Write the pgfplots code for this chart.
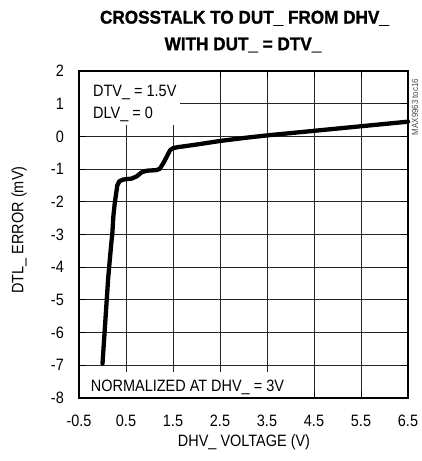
\documentclass[border=0pt]{standalone}
\usepackage{pgfplots}
\pgfplotsset{compat=1.18}
\usepackage{fontspec}
\setmainfont{Liberation Sans}[FakeStretch=0.88]
\newfontfamily\titlefont{Liberation Sans}[FakeStretch=0.93, BoldFeatures={FakeBold=1.2}]
\pgfplotsset{layers/mylayers/.define layer set={axis background,axis grid,pre main,main,axis ticks,axis lines,axis tick labels,axis descriptions,axis foreground}{}}
\begin{document}
\begin{tikzpicture}[x=1bp,y=1bp]
\path (-79,-63) rectangle (341,398);
\begin{axis}[
  set layers=mylayers,
  at={(0,0)}, anchor=south west,
  width=329bp, height=327bp, scale only axis,
  xmin=-0.5, xmax=6.5, ymin=-8, ymax=2,
  xtick={-0.5,0.5,1.5,2.5,3.5,4.5,5.5,6.5},
  xticklabels={-0.5,0.5,1.5,2.5,3.5,4.5,5.5,6.5},
  ytick={-8,-7,-6,-5,-4,-3,-2,-1,0,1,2},
  yticklabels={-8,-7,-6,-5,-4,-3,-2,-1,0,1,2},
  grid=major,
  major grid style={black!85, line width=1bp},
  axis line style={line width=2.6bp},
  tick style={black, line width=1bp},
  major tick length=7bp,
  tick align=inside,
  ticklabel style={font=\fontsize{16.5}{16.5}\selectfont, inner sep=0pt},
  yticklabel style={anchor=east, xshift=-15bp},
  xticklabel style={anchor=north, yshift=-17bp},
  clip=false,
]
\fill[white] (rel axis cs:0.004,0.996) rectangle (rel axis cs:0.307,0.835);
\fill[white] (rel axis cs:0.004,0.004) rectangle (rel axis cs:0.626,0.0795);
\node[anchor=base west, inner sep=0pt, font=\fontsize{16.5}{16.5}\selectfont] at (rel axis cs:0.0426,0.9205) {DTV\_ = 1.5V};
\node[anchor=base west, inner sep=0pt, font=\fontsize{16.5}{16.5}\selectfont] at (rel axis cs:0.0426,0.856) {DLV\_ = 0};
\node[anchor=base west, inner sep=0pt, font=\fontsize{16.5}{16.5}\selectfont] at (rel axis cs:0.0356,0.0193) {NORMALIZED AT DHV\_ = 3V};
\addplot[black, line width=4.3bp, line join=round, line cap=round] coordinates {
(0.00,-6.95) (0.03,-6.30) (0.06,-5.65) (0.09,-5.00) (0.12,-4.35) (0.16,-3.70)
(0.19,-3.23) (0.21,-2.95) (0.23,-2.46) (0.26,-2.05) (0.29,-1.75) (0.315,-1.50)
(0.36,-1.37) (0.44,-1.32) (0.62,-1.29) (0.73,-1.22) (0.83,-1.10) (0.94,-1.05)
(1.05,-1.04) (1.15,-1.03) (1.22,-0.99) (1.31,-0.78) (1.38,-0.58) (1.44,-0.42)
(1.50,-0.36) (1.60,-0.33) (2.00,-0.25) (2.50,-0.14) (3.00,-0.05) (3.50,0.03)
(4.00,0.10) (4.50,0.17) (5.00,0.24) (5.50,0.31) (6.00,0.38) (6.50,0.45)
};
\end{axis}
\node[font=\titlefont\fontsize{18.5}{18.5}\bfseries\selectfont] at (165.5,379.7) {CROSSTALK TO DUT\_ FROM DHV\_};
\node[font=\titlefont\fontsize{18.5}{18.5}\bfseries\selectfont] at (164,353) {WITH DUT\_ = DTV\_};
\node[rotate=90, font=\fontsize{16.5}{16.5}\selectfont] at (-60,168) {DTL\_ ERROR (mV)};
\node[font=\fontsize{16.5}{16.5}\selectfont] at (165,-44) {DHV\_ VOLTAGE (V)};
\node[rotate=90, font=\fontsize{9}{9}\selectfont, text=black!70] at (336,291) {MAX9963 toc16};
\end{tikzpicture}
\end{document}
